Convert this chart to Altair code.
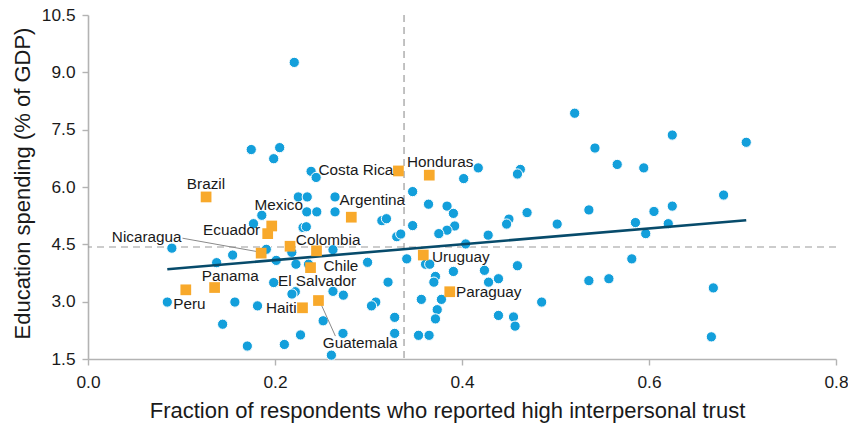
import altair as alt
import pandas as pd

# ---- data ----
# other countries (blue dots)
other_trust = [0.2206, 0.1746, 0.2050, 0.1986, 0.2386, 0.2440, 0.2249, 0.2345, 0.2642, 0.2340,
               0.2447, 0.2642, 0.1859, 0.1770, 0.2300, 0.2335, 0.0897, 0.1907, 0.2180, 0.2620,
               0.1376, 0.1547, 0.2013, 0.2224, 0.2359, 0.2990, 0.1986, 0.2217, 0.2181, 0.2620,
               0.2731, 0.0848, 0.1571, 0.1813, 0.3078, 0.3032, 0.1440, 0.2515, 0.2273, 0.2727,
               0.1704, 0.2100, 0.2603, 0.4174, 0.4018, 0.4624, 0.4593, 0.3472, 0.3642, 0.3840,
               0.3908, 0.4696, 0.4502, 0.4477, 0.3143, 0.3192, 0.3472, 0.3922, 0.3840, 0.3752,
               0.4280, 0.3302, 0.3345, 0.4039, 0.3409, 0.3610, 0.3655, 0.3908, 0.4240, 0.4593,
               0.3716, 0.3699, 0.4390, 0.4284, 0.3209, 0.3565, 0.3780, 0.3735, 0.3716, 0.4390,
               0.4551, 0.4568, 0.3280, 0.3280, 0.3535, 0.3648, 0.4852, 0.5205, 0.5422, 0.6249,
               0.7040, 0.5660, 0.5944, 0.6798, 0.5357, 0.6053, 0.6249, 0.5855, 0.6206, 0.5965,
               0.5018, 0.5816, 0.5357, 0.5571, 0.6688, 0.6667]
other_spend = [9.26, 6.98, 7.03, 6.74, 6.41, 6.25, 5.74, 5.74, 5.74, 5.35,
               5.35, 5.35, 5.26, 5.04, 4.94, 4.96, 4.40, 4.37, 4.29, 4.36,
               4.02, 4.22, 4.08, 3.98, 3.98, 4.03, 3.50, 3.26, 3.20, 3.27,
               3.17, 2.99, 2.99, 2.89, 2.99, 2.89, 2.41, 2.50, 2.13, 2.17,
               1.84, 1.88, 1.60, 6.50, 6.22, 6.46, 6.34, 5.88, 5.55, 5.50,
               5.31, 5.33, 5.16, 5.03, 5.12, 5.17, 4.99, 4.98, 4.87, 4.78,
               4.74, 4.70, 4.77, 4.51, 4.12, 3.98, 3.98, 3.79, 3.82, 3.94,
               3.66, 3.51, 3.60, 3.51, 3.51, 3.06, 3.06, 2.79, 2.55, 2.64,
               2.60, 2.36, 2.59, 2.17, 2.12, 2.12, 2.99, 7.93, 7.02, 7.36,
               7.17, 6.59, 6.50, 5.79, 5.40, 5.36, 5.50, 5.07, 5.04, 4.78,
               5.03, 4.12, 3.55, 3.60, 3.36, 2.08]

# Latin American countries (orange squares)
latam_names = ["Brazil", "Costa Rica", "Honduras", "Mexico", "Argentina", "Ecuador",
               "Nicaragua", "Colombia", "El Salvador", "Chile", "Uruguay", "Panama",
               "Peru", "Paraguay", "Haiti", "Guatemala"]
latam_trust = [0.1263, 0.3320, 0.3650, 0.1965, 0.2816, 0.1922,
               0.1852, 0.2161, 0.2444, 0.2380, 0.3586, 0.1354,
               0.1046, 0.3869, 0.2294, 0.2465]
latam_spend = [5.74, 6.42, 6.31, 4.98, 5.21, 4.78,
               4.27, 4.45, 4.33, 3.89, 4.22, 3.37,
               3.31, 3.26, 2.84, 3.03]
# label anchors (left edge, vertical middle) in data units
label_trust = [0.1057, 0.2465, 0.3412, 0.1781, 0.2691, 0.1231,
               0.0255, 0.2223, 0.2032, 0.2518, 0.3678, 0.1217,
               0.0912, 0.3936, 0.1904, 0.2511]
label_spend = [6.08, 6.45, 6.65, 5.53, 5.65, 4.88,
               4.70, 4.62, 3.54, 3.94, 4.18, 3.66,
               2.94, 3.24, 2.83, 1.93]

# leader lines (Nicaragua, Guatemala)
leader_id = ["Nicaragua", "Nicaragua", "Guatemala", "Guatemala"]
leader_trust = [0.1011, 0.1809, 0.2497, 0.2646]
leader_spend = [4.66, 4.31, 2.91, 2.10]

# fitted trend line end points
trend_trust = [0.0848, 0.7040]
trend_spend = [3.85, 5.13]

# averages (dashed reference lines)
avg_trust = [0.338]
avg_spend = [4.43]

x_ticks = [0.0, 0.2, 0.4, 0.6, 0.8]
y_ticks = [1.5, 3.0, 4.5, 6.0, 7.5, 9.0, 10.5]

# ---- build ----
FONT = "Liberation Sans, Arial, sans-serif"
BLUE = "#139fdb"
ORANGE = "#f8a92b"
TEAL = "#074b6b"

others = pd.DataFrame({"trust": other_trust, "spend": other_spend})
latam = pd.DataFrame({"name": latam_names, "trust": latam_trust, "spend": latam_spend,
                      "lx": label_trust, "ly": label_spend})
leaders = pd.DataFrame({"id": leader_id, "trust": leader_trust, "spend": leader_spend})
trend = pd.DataFrame({"trust": trend_trust, "spend": trend_spend})

xscale = alt.Scale(domain=[0, 0.8], nice=False, zero=False)
yscale = alt.Scale(domain=[1.5, 10.5], nice=False, zero=False)

x_axis = alt.Axis(values=x_ticks, format=".1f", labelFlush=False, labelOverlap=False,
                  title="Fraction of respondents who reported high interpersonal trust",
                  titleX=359, titleY=51, titleAlign="center", titleBaseline="middle",
                  labelPadding=8)
y_axis = alt.Axis(values=y_ticks, format=".1f", labelFlush=False, labelOverlap=False,
                  title="Education spending (% of GDP)",
                  titleX=-66, titleY=168, titleAlign="center", titleBaseline="middle",
                  titleAngle=270, labelPadding=7)

def X(field):
    return alt.X(field, type="quantitative", scale=xscale, axis=x_axis)

def Y(field):
    return alt.Y(field, type="quantitative", scale=yscale, axis=y_axis)

vline = alt.Chart(pd.DataFrame({"v": avg_trust})).mark_rule(
    color="#9a9a9a", strokeDash=[7, 5], strokeWidth=1.2).encode(x=X("v"))
hline = alt.Chart(pd.DataFrame({"v": avg_spend})).mark_rule(
    color="#9a9a9a", strokeDash=[7, 5], strokeWidth=1.2).encode(y=Y("v"))

dots = alt.Chart(others).mark_point(
    shape="circle", filled=True, size=105, color=BLUE, opacity=1,
    stroke="white", strokeWidth=1).encode(x=X("trust"), y=Y("spend"))

trend_line = alt.Chart(trend).mark_line(color=TEAL, strokeWidth=2.6).encode(
    x=X("trust"), y=Y("spend"))

leader_lines = alt.Chart(leaders).mark_line(color="#8a8a8a", strokeWidth=1).encode(
    x=X("trust"), y=Y("spend"), detail="id:N")

squares = alt.Chart(latam).mark_point(
    shape="square", filled=True, size=115, color=ORANGE, opacity=1).encode(
    x=X("trust"), y=Y("spend"))

labels = alt.Chart(latam).mark_text(
    align="left", baseline="middle", font=FONT, fontSize=15.3, color="#1a1a1a").encode(
    x=X("lx"), y=Y("ly"), text="name:N")

chart = alt.layer(vline, hline, dots, trend_line, leader_lines, squares, labels).properties(
    width=748, height=344,
    autosize=alt.AutoSizeParams(type="none"),
    padding={"left": 80, "top": 7, "right": 12, "bottom": 70},
).configure_view(stroke=None).configure_axis(
    grid=False, domainColor="#b3b3b3", domainWidth=1.6, tickColor="#b3b3b3",
    tickWidth=1.4, tickSize=6,
    labelFont=FONT, labelFontSize=17.3, labelColor="#1a1a1a",
    titleFont=FONT, titleFontSize=22, titleFontWeight="normal", titleColor="#1a1a1a",
)

chart.save("out.html", embed_options={"renderer": "svg", "actions": False})
